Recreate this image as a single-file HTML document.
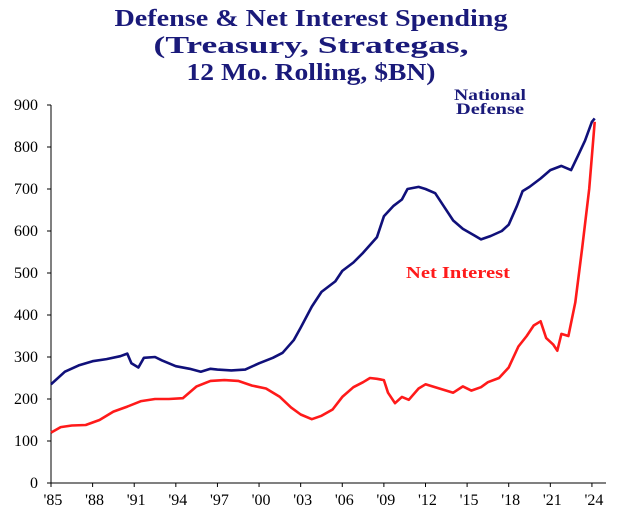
<!DOCTYPE html>
<html><head><meta charset="utf-8"><style>
body{margin:0;background:#fff;width:617px;height:516px;overflow:hidden;font-family:"Liberation Serif",serif}
</style></head><body>
<svg width="617" height="516">
<g font-family="Liberation Serif, serif" font-weight="bold" font-size="24" fill="#1a1a7a" text-anchor="middle">
<text x="311" y="26" textLength="393" lengthAdjust="spacingAndGlyphs">Defense &amp; Net Interest Spending</text>
<text x="311" y="53" textLength="315" lengthAdjust="spacingAndGlyphs">(Treasury, Strategas,</text>
<text x="311" y="80" textLength="249" lengthAdjust="spacingAndGlyphs">12 Mo. Rolling, $BN)</text>
</g>
<g id="axes"></g>
<g id="series"></g>
<text x="490" y="100" text-anchor="middle" font-weight="bold" font-size="16" fill="#1a1a7a" textLength="72" lengthAdjust="spacingAndGlyphs">National</text>
<text x="490" y="114" text-anchor="middle" font-weight="bold" font-size="16" fill="#1a1a7a" textLength="68" lengthAdjust="spacingAndGlyphs">Defense</text>
<text x="458" y="278" text-anchor="middle" font-weight="bold" font-size="17" fill="#ff1a1a" textLength="104" lengthAdjust="spacingAndGlyphs">Net Interest</text>
</svg>
<script>
const yTicks=[0,100,200,300,400,500,600,700,800,900];
const xTickYears=[1985,1988,1991,1994,1997,2000,2003,2006,2009,2012,2015,2018,2021,2024];
const xTickLabels=["'85","'88","'91","'94","'97","'00","'03","'06","'09","'12","'15","'18","'21","'24"];
const defenseYears=[1985,1986,1987,1988,1989,1990,1990.5,1990.8,1991.3,1991.7,1992.5,1993,1994,1995,1995.8,1996.5,1997,1998,1999,2000,2001,2001.7,2002.5,2003,2003.8,2004.5,2005.5,2006,2006.8,2007.5,2008.5,2009,2009.7,2010.3,2010.7,2011.5,2012,2012.7,2013.3,2014,2014.7,2015.5,2016,2016.7,2017.5,2018,2018.6,2019,2019.5,2020.3,2021,2021.8,2022.5,2023,2023.5,2024,2024.2];
const defenseValues=[235,265,280,290,295,302,308,285,275,298,300,292,278,272,265,272,270,268,270,285,298,310,340,370,420,455,480,505,525,548,585,635,660,675,700,705,700,690,660,625,605,590,580,588,600,615,660,695,705,725,745,755,745,780,815,860,868];
const interestYears=[1985,1985.7,1986.5,1987.5,1988.5,1989.5,1990.5,1991.5,1992.5,1993.5,1994.5,1995.5,1996.5,1997.5,1998.5,1999.5,2000.5,2001.5,2002.3,2003,2003.8,2004.5,2005.3,2006,2006.8,2007.5,2008,2008.5,2009,2009.3,2009.8,2010.3,2010.8,2011.5,2012,2012.5,2013.5,2014,2014.7,2015.3,2016,2016.5,2017.3,2018,2018.7,2019.3,2019.8,2020.3,2020.7,2021.2,2021.5,2021.8,2022.3,2022.8,2023.3,2023.8,2024.2];
const interestValues=[120,133,137,138,150,170,182,195,200,200,202,230,243,245,243,232,225,205,180,163,152,160,175,205,228,240,250,248,245,215,190,205,198,225,235,230,220,215,230,220,228,240,250,275,325,350,375,385,345,330,315,355,350,430,560,700,860];
const X=y=>51+(y-1985)*13.87;
const Y=v=>483-v*0.42;
const NS="http://www.w3.org/2000/svg";
const ax=document.getElementById('axes');
function mk(tag,attrs,parent){const e=document.createElementNS(NS,tag);for(const k in attrs)e.setAttribute(k,attrs[k]);parent.appendChild(e);return e;}
const yl=mk('line',{x1:51,y1:Y(900),x2:51,y2:483,stroke:'#000','stroke-width':1},ax);


const xl=mk('line',{x1:51,y1:483,x2:606,y2:483,stroke:'#000','stroke-width':1},ax);


yTicks.forEach(v=>{
 mk('line',{x1:47,x2:51,y1:Y(v),y2:Y(v),stroke:'#000'},ax);
 const t=mk('text',{x:38,y:Y(v)+5,'text-anchor':'end','font-size':16,fill:'#000'},ax);
 t.textContent=v;
 
 
});
xTickYears.forEach((yr,i)=>{
 mk('line',{x1:X(yr),x2:X(yr),y1:483,y2:487,stroke:'#000'},ax);
 const t=mk('text',{x:X(yr)+2,y:505,'text-anchor':'middle','font-size':16,fill:'#000'},ax);
 t.textContent=xTickLabels[i];
 
 
});
const sg=document.getElementById('series');
function line(xs,vs,color,name){
 const d=xs.map((x,i)=>(i?'L':'M')+X(x).toFixed(1)+','+Y(vs[i]).toFixed(1)).join('');
 const p=mk('path',{d:d,fill:'none',stroke:color,'stroke-width':2.6,'stroke-linejoin':'round'},sg);
 
 
}
line(interestYears,interestValues,'#ff1a1a','net-interest-line');
line(defenseYears,defenseValues,'#10107a','defense-line');
</script>
</body></html>
